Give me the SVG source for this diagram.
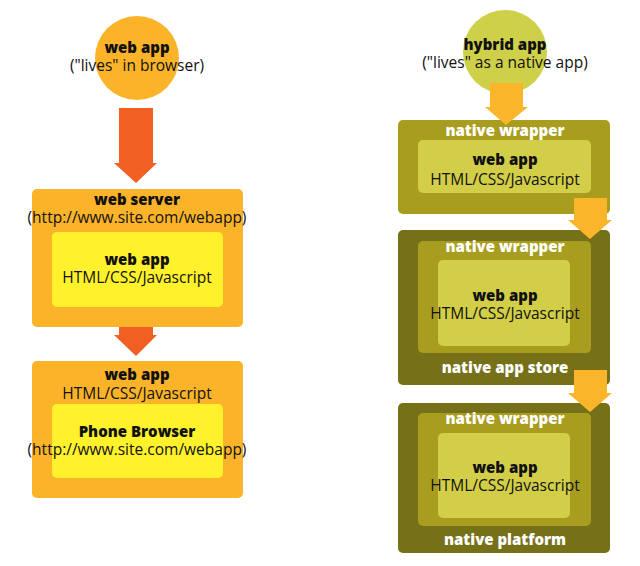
<svg xmlns="http://www.w3.org/2000/svg" width="640" height="566" viewBox="0 0 640 566">
<style>
text{font-family:"Open Sans","Liberation Sans",sans-serif;text-anchor:middle;fill:#111;font-size:15.5px}
.b{font-weight:800;font-size:15px}
.w{fill:#fff;font-weight:800;font-size:15px}
</style>
<rect width="640" height="566" fill="#fff"/>
<g id="webapp-circle"><circle cx="137" cy="58" r="42" fill="#fbb429"/><text class="b" x="137" y="53">web app</text><text x="137" y="71">("lives" in browser)</text></g>
<g id="web-server"><rect x="32" y="189" width="211" height="138" rx="5" fill="#fbb429"/><text class="b" x="137" y="205">web server</text><text x="137" y="223">(http://www.site.com/webapp)</text>
<rect x="52" y="232" width="171" height="75" rx="5" fill="#fff22c"/><text class="b" x="137" y="265">web app</text><text x="137" y="283">HTML/CSS/Javascript</text></g>
<g id="phone"><rect x="32" y="361" width="211" height="137" rx="5" fill="#fbb429"/><text class="b" x="137" y="380">web app</text><text x="137" y="399">HTML/CSS/Javascript</text>
<rect x="52" y="404" width="171" height="74" rx="5" fill="#fff22c"/><text class="b" x="137" y="437">Phone Browser</text><text x="137" y="455">(http://www.site.com/webapp)</text></g>
<g id="hybrid-circle"><circle cx="505" cy="52" r="42" fill="#cfd04a"/><text class="b" x="505" y="50">hybrid app</text><text x="505" y="68">("lives" as a native app)</text></g>
<g id="box1"><rect x="398" y="120" width="212" height="94" rx="5" fill="#a89d1e"/><text class="w" x="505" y="136">native wrapper</text>
<rect x="418" y="140" width="173" height="53" rx="5" fill="#d2ce48"/><text class="b" x="505" y="165">web app</text><text x="505" y="185">HTML/CSS/Javascript</text></g>
<g id="box2"><rect x="398" y="230" width="212" height="155" rx="5" fill="#767019"/><rect x="418" y="241" width="173" height="112" rx="5" fill="#a89d1e"/><text class="w" x="505" y="252">native wrapper</text>
<rect x="438" y="260" width="132" height="86" rx="5" fill="#d2ce48"/><text class="b" x="505" y="301">web app</text><text x="505" y="319">HTML/CSS/Javascript</text><text class="w" x="505" y="373">native app store</text></g>
<g id="box3"><rect x="398" y="403" width="212" height="150" rx="5" fill="#767019"/><rect x="418" y="413" width="173" height="113" rx="5" fill="#a89d1e"/><text class="w" x="505" y="424">native wrapper</text>
<rect x="438" y="433" width="132" height="85" rx="5" fill="#d2ce48"/><text class="b" x="505" y="473">web app</text><text x="505" y="491">HTML/CSS/Javascript</text><text class="w" x="505" y="545">native platform</text></g>
<g id="connectors">
<polygon points="119,108 153,108 153,163 157,163 136,183 114,163 119,163" fill="#f06022"/>
<polygon points="119,327 153,327 153,335 157,335 136,356 114,335 119,335" fill="#f06022"/>
<polygon points="490,83 523,83 523,107 528,107 506,125 485,107 490,107" fill="#fbb52a"/>
<polygon points="574,198 607,198 607,220 612,220 590,239 568,220 574,220" fill="#fbb52a"/>
<polygon points="574,370 607,370 607,393 612,393 590,412 568,393 574,393" fill="#fbb52a"/>
</g>
</svg>
